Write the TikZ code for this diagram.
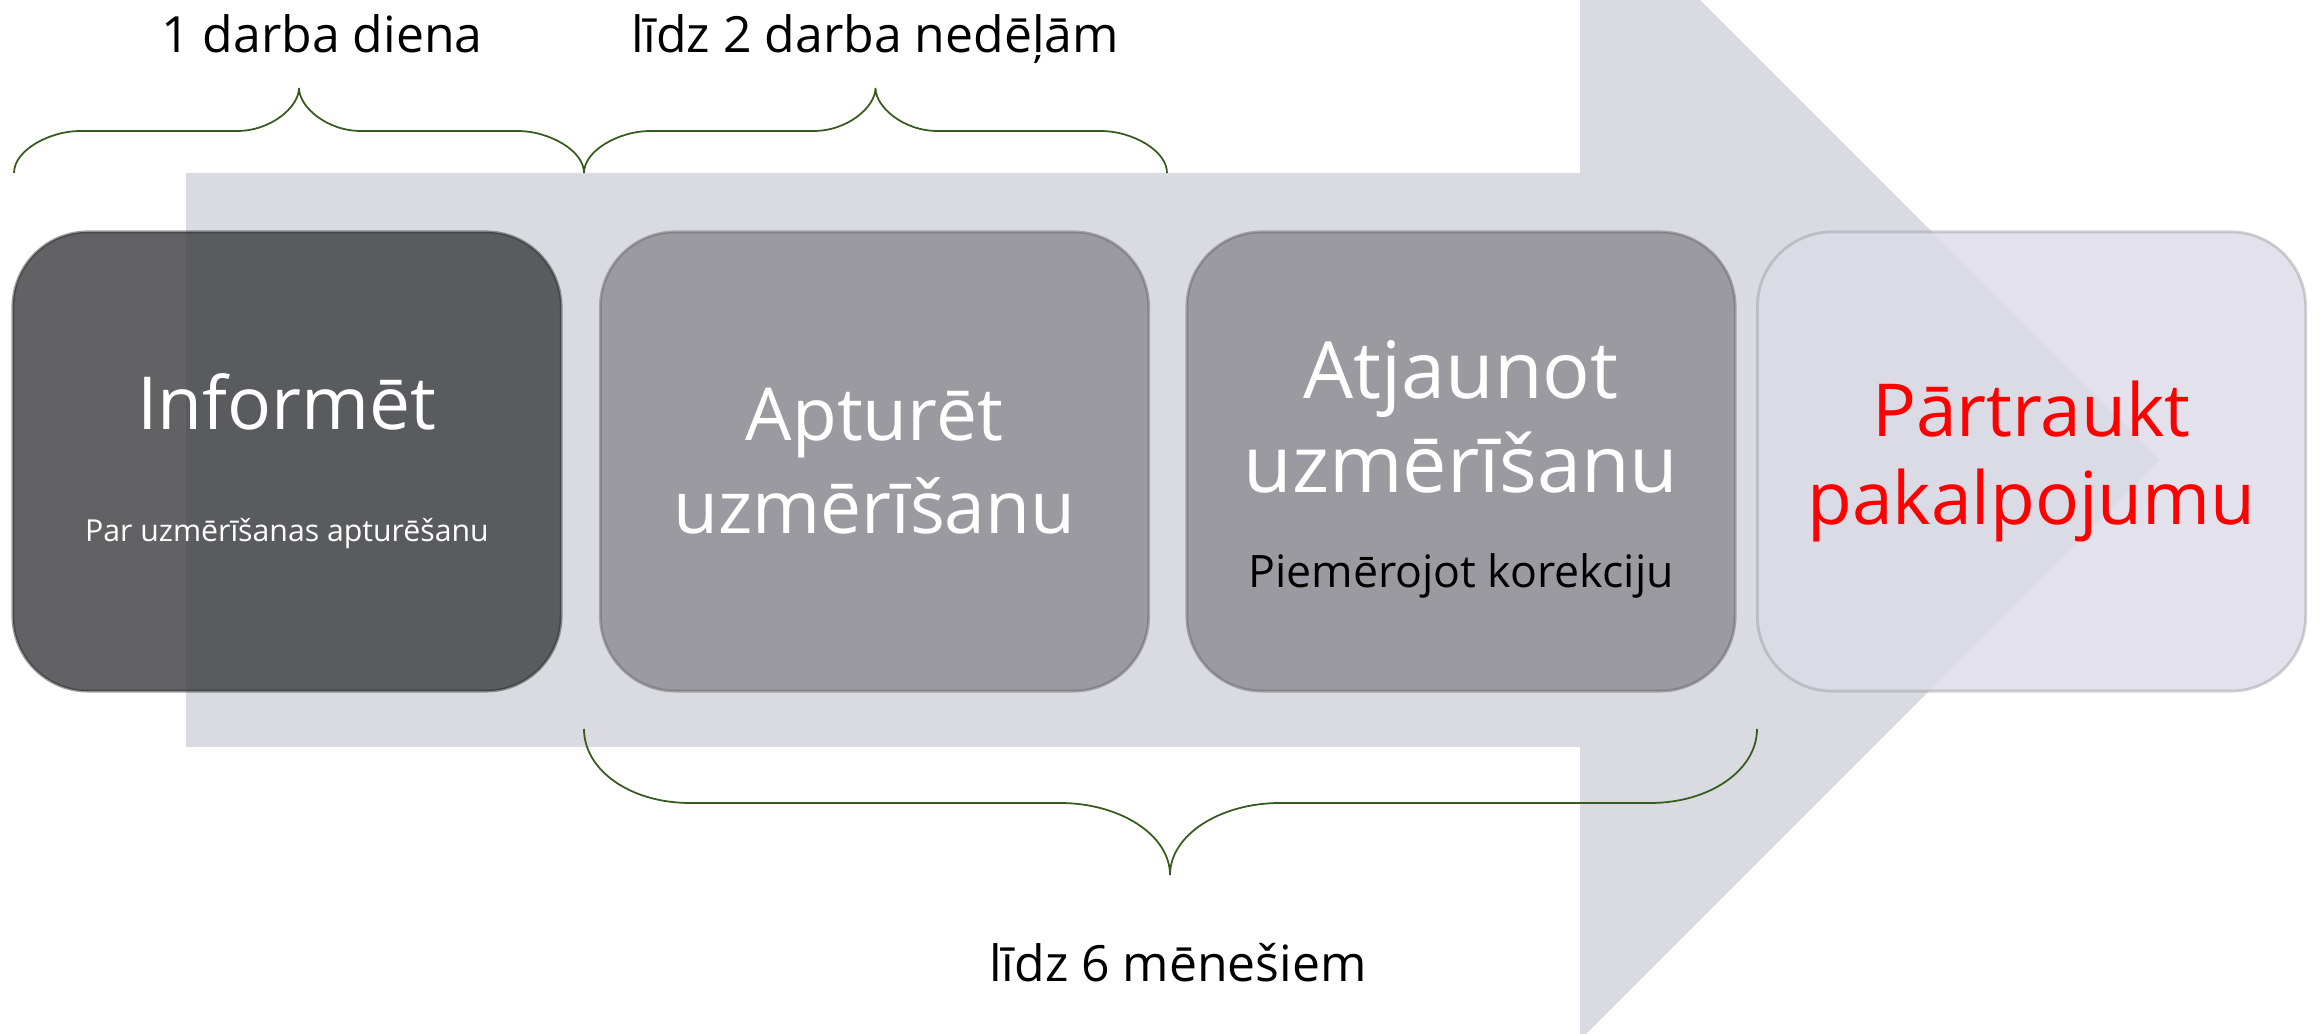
\documentclass[tikz,border=0pt]{standalone}
\usepackage{fontspec}
\setmainfont{Open Sans}
\usepackage{xcolor}
\usepackage{tikz}

\definecolor{arrowgray}{RGB}{218,219,224}
\definecolor{darkbox}{RGB}{59,59,62}
\definecolor{midbox}{RGB}{138,138,144}
\definecolor{lightbox}{RGB}{220,219,231}
\definecolor{bracegreen}{RGB}{55,90,30}

\tikzset{
	stage/.style={rounded corners=0.75cm,minimum width=5.48cm,minimum height=4.59cm,
		fill opacity=0.8,draw opacity=0.45,text opacity=1,align=center,line width=0.8pt},
	brace/.style={bracegreen,line width=0.5pt},
	period/.style={font=\fontsize{14.2}{17}\selectfont,anchor=base}
}

\begin{document}
\begin{tikzpicture}[x=0.01cm,y=-0.01cm]
	\useasboundingbox (0,0) rectangle (2320,1034);
	\clip (0,0) rectangle (2320,1034);

	% big arrow behind the boxes
	\fill [arrowgray] (186,173) -- (1580,173) -- (1580,-120) -- (2160,460)
		-- (1580,1040) -- (1580,747) -- (186,747) -- cycle;

	\node [stage,fill=darkbox,draw=darkbox!70!black,text=white,font=\fontsize{20.8}{25}\selectfont] (inform) at (287,461.5)
		{Informēt\\[6.9pt]{\fontsize{8.6}{10}\selectfont Par uzmērīšanas apturēšanu}};
	\node [stage,fill=midbox,draw=midbox!70!black,text=white,font=\fontsize{20.8}{26.5}\selectfont] (halt) at (874.5,461.5)
		{Apturēt\\uzmērīšanu};
	\node [stage,fill=midbox,draw=midbox!70!black,text=white,font=\fontsize{22.5}{26.5}\selectfont] (resume) at (1461,461.5)
		{\rule{0pt}{0pt}\\[-5.5pt]Atjaunot\\uzmērīšanu\\[0.5pt]{\color{black}\fontsize{12.7}{15}\selectfont Piemērojot korekciju}};
	\node [stage,fill=lightbox,draw=lightbox!70!black,text=red,font=\fontsize{20.8}{25}\selectfont] (cancel) at (2031.5,461.5)
		{Pārtraukt\\pakalpojumu};

	% braces over the first two steps
	\foreach \xa/\xb in {14/584, 584/1167} {
		\draw [brace] (\xa,173) .. controls (\xa,150) and (\xa+36,131) .. (\xa+66,131)
			-- ({(\xa+\xb)/2-62},131) .. controls ({(\xa+\xb)/2-28},131) and ({(\xa+\xb)/2},107) .. ({(\xa+\xb)/2},88)
			.. controls ({(\xa+\xb)/2},107) and ({(\xa+\xb)/2+28},131) .. ({(\xa+\xb)/2+62},131)
			-- (\xb-66,131) .. controls (\xb-36,131) and (\xb,150) .. (\xb,173);
	}
	% brace under steps 2 and 3
	\draw [brace] (584,729) .. controls (584,770) and (630,803) .. (690,803) -- (1060,803)
		.. controls (1120,803) and (1170,835) .. (1170,875)
		.. controls (1170,835) and (1220,803) .. (1280,803) -- (1650,803)
		.. controls (1710,803) and (1757,770) .. (1757,729);

	\node [period] (oneday) at (322,53) {1 darba diena};
	\node [period] (twoweeks) at (875,53) {līdz 2 darba nedēļām};
	\node [period] (sixmonths) at (1178,982) {līdz 6 mēnešiem};
\end{tikzpicture}
\end{document}
